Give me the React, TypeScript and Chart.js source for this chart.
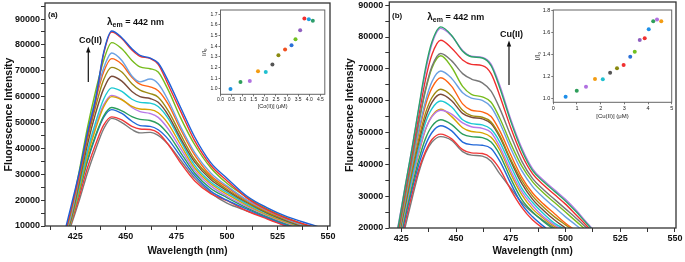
import React, { useEffect, useRef } from 'react';
import { Chart, registerables } from 'chart.js';

Chart.register(...registerables);

const FONT = '"Liberation Sans", Arial, Helvetica, sans-serif';

// ---------- Panel (a): Co(II) titration ----------
const WL_A = [419, 423, 427, 431, 435, 439, 443, 448, 453, 457, 462, 466, 471, 477, 484, 492, 500, 510, 520, 530, 542, 550];
// listed from the highest spectrum to the lowest
const A_BLUE = [5500, 18000, 31000, 46000, 59000, 77000, 85400, 82800, 78500, 76000, 74900, 73000, 66000, 56000, 44500, 34500, 28500, 21500, 17000, 13500, 10500, 8500];
const A_RED = [4500, 16500, 30000, 45000, 58000, 76500, 85000, 82500, 78000, 75600, 74800, 72500, 64500, 54500, 43000, 33500, 27500, 20800, 16200, 12800, 9800, 7800];
const A_LIME = [4500, 16000, 31500, 48000, 62000, 74000, 80900, 78500, 74000, 71500, 70800, 69500, 62500, 52000, 41500, 32500, 26500, 21000, 16500, 13000, 9500, 7500];
const A_LIGHTBLUE = [4000, 14500, 30000, 46000, 59500, 71000, 76900, 74000, 68000, 65700, 66800, 65000, 58500, 48500, 38500, 30500, 25500, 20000, 16000, 12500, 9200, 7200];
const A_ORANGE = [4000, 14500, 29500, 45500, 58500, 69500, 74700, 72500, 67500, 64800, 63800, 62300, 57000, 47500, 37500, 29500, 25000, 19800, 15800, 12500, 9000, 7000];
const A_OLIVE = [3500, 13500, 28000, 43500, 56000, 66500, 71300, 69500, 65000, 62500, 61200, 59800, 54500, 45500, 35800, 28800, 24200, 19300, 15300, 12200, 8800, 6800];
const A_BROWN = [3500, 13000, 27000, 41500, 53500, 63000, 67900, 66000, 62000, 60000, 59300, 57800, 52800, 44000, 34800, 28000, 23700, 19000, 15000, 11800, 8500, 6500];
const A_CYAN = [3000, 12500, 25500, 39000, 50000, 59000, 63400, 62000, 59000, 57800, 57500, 56200, 51500, 43000, 33500, 27000, 23000, 18500, 14800, 11700, 8300, 6300];
const A_GOLD = [3000, 12000, 24000, 37000, 47500, 56000, 60000, 58800, 56200, 55200, 55000, 53800, 49500, 41500, 32500, 26300, 22300, 18000, 14300, 11300, 8000, 6000];
const A_PURPLE = [3500, 12500, 25000, 38000, 48500, 56800, 60500, 59000, 55800, 54200, 53500, 52000, 47500, 40000, 31500, 25500, 21500, 17500, 14000, 11000, 7800, 5800];
const A_TEAL = [3500, 12500, 23500, 35500, 45000, 52500, 55800, 54500, 52300, 51200, 50800, 49500, 45500, 38500, 30500, 24500, 21000, 17000, 13600, 10600, 7500, 5500];
const A_BLUE2 = [4000, 13000, 23500, 35000, 44500, 52000, 55000, 53500, 50500, 48800, 48500, 47200, 43500, 37000, 29500, 23500, 20000, 16500, 13200, 10300, 7300, 5300];
const A_RED2 = [3000, 11500, 21500, 32500, 41500, 49000, 52200, 51000, 48500, 47500, 47300, 46000, 41500, 34500, 27500, 22500, 19800, 15800, 12700, 9800, 6800, 5000];
const A_GREY = [2000, 10500, 20000, 30500, 39500, 47500, 51600, 50000, 47300, 46000, 46200, 45000, 41500, 35500, 28500, 22800, 18800, 15800, 13000, 9800, 6500, 4500];
const A_SERIES = [A_BLUE, A_RED, A_LIME, A_LIGHTBLUE, A_ORANGE, A_OLIVE, A_BROWN, A_CYAN, A_GOLD, A_PURPLE, A_TEAL, A_BLUE2, A_RED2, A_GREY];
const A_COLORS = ['#1d5fd8', '#ef3030', '#76bb1c', '#6da2e3', '#ff6414', '#9d8b12', '#7a4b3a', '#1cc8d2', '#d9a300', '#b878e8', '#2a9d5c', '#2268d8', '#f03838', '#7a7a7a'];

// ---------- Panel (b): Cu(II) titration ----------
const WL_B = [421, 424, 427, 430, 433, 436, 439, 443, 448, 453, 457, 462, 466, 470, 475, 480, 485, 490, 495, 500, 505, 510, 515];
const B_TEAL = [11000, 22000, 34000, 45500, 58000, 70000, 78500, 83200, 80500, 75500, 73800, 73400, 71000, 64000, 53500, 44500, 38000, 34500, 31500, 28500, 25000, 21200, 17500];
const B_PURPLE = [11500, 22500, 34000, 45500, 57500, 69000, 77800, 82700, 80300, 75800, 74000, 73600, 71500, 64800, 54200, 45200, 38600, 35000, 32000, 29000, 25500, 21500, 17800];
const B_RED = [10000, 21000, 32500, 44000, 55500, 66500, 74500, 79000, 76500, 72800, 71400, 71000, 68500, 61500, 51500, 43000, 37000, 33500, 30500, 27500, 24000, 20500, 17000];
const B_GREY = [9500, 20500, 31500, 42500, 53500, 63500, 70800, 74800, 72500, 68500, 66800, 65600, 63000, 57500, 49000, 41000, 35500, 32000, 29000, 26000, 23000, 19800, 16500];
const B_LIME = [9000, 20000, 31000, 42000, 53000, 63000, 70300, 74100, 70500, 64500, 62000, 61200, 59500, 54500, 46500, 39500, 34500, 31000, 28000, 25000, 22000, 19000, 16000];
const B_LIGHTBLUE = [8500, 19500, 30000, 40500, 50800, 59800, 66000, 69300, 67000, 62500, 60800, 60100, 58000, 53000, 45000, 38000, 33000, 29500, 26500, 23500, 20800, 18000, 15000];
const B_ORANGE = [8000, 19000, 29500, 40000, 50000, 58500, 64000, 67200, 64500, 59000, 57000, 56500, 55000, 50500, 43000, 36000, 31000, 27500, 24500, 21500, 19000, 16500, 14000];
const B_OLIVE = [7500, 18500, 28500, 38500, 48000, 56000, 61000, 63600, 61500, 57000, 55300, 54800, 53300, 49000, 41500, 35000, 30000, 26500, 23500, 21000, 18500, 16000, 13500];
const B_BROWN = [7000, 18000, 28000, 38000, 47000, 54500, 59500, 62000, 60000, 56000, 54800, 54300, 52800, 48500, 41000, 34000, 29000, 25500, 22500, 20000, 17500, 15000, 12500];
const B_CYAN = [7000, 17500, 27000, 36500, 45500, 53000, 57500, 59900, 58000, 54000, 52800, 52400, 51000, 47000, 39500, 32500, 28000, 24500, 21500, 19500, 17000, 14500, 12000];
const B_PURPLE2 = [6500, 17000, 26500, 35500, 44000, 51000, 55000, 57000, 55800, 53000, 51800, 51300, 50000, 45500, 38000, 31500, 27000, 23500, 21000, 19000, 16500, 14000, 11500];
const B_GOLD = [6500, 16500, 26000, 35000, 43500, 50800, 55200, 57300, 55000, 51500, 50300, 49900, 48500, 44500, 37000, 30500, 26000, 23000, 20500, 18500, 16000, 13500, 11000];
const B_GREEN2 = [6000, 15500, 25000, 33500, 41500, 48000, 52000, 54000, 52500, 49500, 48700, 48400, 47000, 43000, 35500, 29000, 25000, 22000, 19500, 17500, 15000, 12500, 10000];
const B_BLUE = [5500, 14500, 24000, 32500, 40000, 46000, 50000, 52100, 50500, 47000, 46200, 46000, 45000, 41000, 34000, 27500, 23500, 20500, 18000, 16000, 13500, 11000, 9000];
const B_RED2 = [5000, 13500, 22500, 31000, 38500, 44000, 47800, 49500, 48000, 44600, 43600, 43400, 42000, 38500, 32000, 26500, 22500, 19800, 17500, 15500, 13000, 11000, 9000];
const B_GREY2 = [4500, 12500, 21000, 29500, 37500, 43500, 47000, 48700, 47500, 44000, 42900, 42600, 41000, 37000, 32500, 28000, 24800, 22300, 20000, 17500, 14500, 12000, 9500];
const B_SERIES = [B_TEAL, B_PURPLE, B_RED, B_GREY, B_LIME, B_LIGHTBLUE, B_ORANGE, B_OLIVE, B_BROWN, B_CYAN, B_PURPLE2, B_GOLD, B_GREEN2, B_BLUE, B_RED2, B_GREY2];
const B_COLORS = ['#2aa36a', '#b77ae8', '#ef2f2f', '#777777', '#78bc1e', '#6aa0e2', '#ff6414', '#a08a10', '#7a4b3a', '#1ccad2', '#b878e8', '#d9a300', '#2a9d5c', '#2268d8', '#f03838', '#7a7a7a'];

// ---------- Insets ----------
const CO_CONC = [0.45, 0.9, 1.32, 1.69, 2.04, 2.34, 2.61, 2.91, 3.2, 3.38, 3.59, 3.78, 3.98, 4.16];
const CO_RATIO = [1.0, 1.066, 1.075, 1.166, 1.16, 1.23, 1.316, 1.37, 1.41, 1.466, 1.55, 1.66, 1.653, 1.64];
const CO_COLORS = ['#1e90e0', '#2e9e5b', '#b070e0', '#f39c12', '#20c0d0', '#555555', '#8a8a10', '#f05020', '#2a70d8', '#70c020', '#9060c0', '#f03030', '#20a0e0', '#2e9e6b'];
const CU_CONC = [0.52, 0.99, 1.38, 1.76, 2.09, 2.4, 2.69, 2.97, 3.25, 3.44, 3.65, 3.86, 4.03, 4.22, 4.38, 4.56];
const CU_RATIO = [1.015, 1.069, 1.105, 1.175, 1.172, 1.232, 1.272, 1.302, 1.377, 1.422, 1.528, 1.543, 1.625, 1.697, 1.715, 1.697];
const CU_COLORS = ['#1e8ee8', '#2e9e5b', '#b070e0', '#f39c12', '#20c0d0', '#555555', '#8a8a10', '#f03030', '#2a70d8', '#70c020', '#9060c0', '#f03030', '#1e90e8', '#2e9e5b', '#b070e0', '#f39c12'];

// ---------- Tick values ----------
const X_MAJOR = [425, 450, 475, 500, 525, 550];
const X_MINOR = [412.5, 437.5, 462.5, 487.5, 512.5, 537.5];
const Y_MAJOR_A = [10000, 20000, 30000, 40000, 50000, 60000, 70000, 80000, 90000];
const Y_MINOR_A = [15000, 25000, 35000, 45000, 55000, 65000, 75000, 85000, 95000];
const Y_MAJOR_B = [20000, 30000, 40000, 50000, 60000, 70000, 80000, 90000];
const Y_MINOR_B = [25000, 35000, 45000, 55000, 65000, 75000, 85000];
const CO_X_TICKS = [0, 0.5, 1, 1.5, 2, 2.5, 3, 3.5, 4, 4.5];
const CO_Y_TICKS = [1.0, 1.1, 1.2, 1.3, 1.4, 1.5, 1.6, 1.7];
const CU_X_TICKS = [0, 1, 2, 3, 4, 5];
const CU_Y_TICKS = [1.0, 1.2, 1.4, 1.6, 1.8];

type Ann = {
  tag: string; tagX: number; tagY: number;
  lamX: number; lamY: number;
  ion: string; ionX: number; ionY: number;
  arrowX: number; arrowTop: number; arrowBottom: number;
};

function boxPlugin(color: string, width: number) {
  return {
    id: 'box',
    afterDatasetsDraw(chart: any) {
      const { ctx, chartArea: a } = chart;
      ctx.save();
      ctx.strokeStyle = color;
      ctx.lineWidth = width;
      ctx.strokeRect(a.left, a.top, a.right - a.left, a.bottom - a.top);
      ctx.restore();
    },
  };
}

function annotPlugin(a: Ann) {
  return {
    id: 'annot',
    afterDraw(chart: any) {
      const ctx = chart.ctx;
      ctx.save();
      ctx.fillStyle = '#111';
      ctx.textAlign = 'left';
      ctx.textBaseline = 'alphabetic';
      ctx.font = `bold 8px ${FONT}`;
      ctx.fillText(a.tag, a.tagX, a.tagY);
      ctx.font = `bold 10px ${FONT}`;
      ctx.fillText('λ', a.lamX, a.lamY);
      const w1 = ctx.measureText('λ').width;
      ctx.font = `bold 7px ${FONT}`;
      ctx.fillText('em', a.lamX + w1, a.lamY + 2.5);
      const w2 = ctx.measureText('em').width;
      ctx.font = `bold 9px ${FONT}`;
      ctx.fillText(' = 442 nm', a.lamX + w1 + w2, a.lamY);
      ctx.fillText(a.ion, a.ionX, a.ionY);
      ctx.strokeStyle = '#111';
      ctx.lineWidth = 1.2;
      ctx.beginPath();
      ctx.moveTo(a.arrowX, a.arrowBottom);
      ctx.lineTo(a.arrowX, a.arrowTop + 4);
      ctx.stroke();
      ctx.beginPath();
      ctx.moveTo(a.arrowX, a.arrowTop);
      ctx.lineTo(a.arrowX - 2.2, a.arrowTop + 6);
      ctx.lineTo(a.arrowX + 2.2, a.arrowTop + 6);
      ctx.closePath();
      ctx.fill();
      ctx.restore();
    },
  };
}

function tickSetter(values: number[], min: number, max: number) {
  return (scale: any) => {
    scale.ticks = values
      .filter((v) => v >= min - 1e-9 && v <= max + 1e-9)
      .sort((p, q) => p - q)
      .map((v) => ({ value: v }));
  };
}

type MainP = {
  wl: number[]; series: number[][]; colors: string[];
  xMin: number; xMax: number; yMin: number; yMax: number;
  yMajor: number[]; yMinor: number[];
  yWidth: number; xHeight: number; padRight: number; padTop: number;
  yTitlePad: number; xTitlePad: number; xTickPad: number; yTickPad: number;
  ann: Ann;
};

function mainConfig(p: MainP): any {
  const tickFont = { family: FONT, size: 9, weight: 'bold' as const };
  return {
    type: 'line',
    data: {
      datasets: p.series.map((s, i) => ({
        data: s.map((v, j) => ({ x: p.wl[j], y: v })),
        borderColor: p.colors[i],
        borderWidth: 1.4,
        pointRadius: 0,
        fill: false,
        cubicInterpolationMode: 'monotone',
      })),
    },
    options: {
      animation: false,
      responsive: false,
      devicePixelRatio: 1,
      layout: { padding: { left: 0, right: p.padRight, top: p.padTop, bottom: 0 } },
      plugins: { legend: { display: false }, tooltip: { enabled: false } },
      scales: {
        x: {
          type: 'linear',
          min: p.xMin,
          max: p.xMax,
          afterBuildTicks: tickSetter([...X_MAJOR, ...X_MINOR], p.xMin, p.xMax),
          afterFit: (s: any) => { s.height = p.xHeight; s.paddingLeft = 0; s.paddingRight = 0; },
          ticks: {
            autoSkip: false, maxRotation: 0, minRotation: 0, padding: p.xTickPad,
            color: '#111', font: tickFont,
            callback: (v: any) => (X_MAJOR.includes(Number(v)) ? String(v) : ''),
          },
          grid: { display: true, drawOnChartArea: false, drawTicks: true, tickLength: 4, color: '#333', lineWidth: 1 },
          border: { display: false },
          title: {
            display: true, text: 'Wavelength (nm)', color: '#111',
            font: { family: FONT, size: 10, weight: 'bold' },
            padding: { top: 0, bottom: p.xTitlePad },
          },
        },
        y: {
          type: 'linear',
          min: p.yMin,
          max: p.yMax,
          afterBuildTicks: tickSetter([...p.yMajor, ...p.yMinor], p.yMin, p.yMax),
          afterFit: (s: any) => { s.width = p.yWidth; s.paddingTop = 0; s.paddingBottom = 0; },
          ticks: {
            autoSkip: false, padding: p.yTickPad, color: '#111', font: tickFont,
            callback: (v: any) => (p.yMajor.includes(Number(v)) ? String(v) : ''),
          },
          grid: { display: true, drawOnChartArea: false, drawTicks: true, tickLength: 4, color: '#333', lineWidth: 1 },
          border: { display: false },
          title: {
            display: true, text: 'Fluorescence Intensity', color: '#111',
            font: { family: FONT, size: 10.5, weight: 'bold' },
            padding: { top: p.yTitlePad, bottom: 0 },
          },
        },
      },
    },
    plugins: [boxPlugin('#333', 1.3), annotPlugin(p.ann)],
  };
}

type InsetP = {
  xs: number[]; ys: number[]; colors: string[];
  xMin: number; xMax: number; yMin: number; yMax: number;
  xTicks: number[]; yTicks: number[]; xDigits: number;
  yWidth: number; xHeight: number; padRight: number; padTop: number;
  xTitle: string; xTitlePad: number; yTitlePad: number; yTitleSize: number;
  tickSize: number; xTickPad: number;
};

function insetConfig(p: InsetP): any {
  const tickFont = { family: FONT, size: p.tickSize };
  return {
    type: 'scatter',
    data: {
      datasets: [{
        data: p.xs.map((x, i) => ({ x, y: p.ys[i] })),
        pointBackgroundColor: p.colors,
        pointBorderColor: p.colors,
        pointBorderWidth: 0,
        pointRadius: 2,
        pointStyle: 'circle',
        showLine: false,
      }],
    },
    options: {
      animation: false,
      responsive: false,
      devicePixelRatio: 1,
      layout: { padding: { left: 0, right: p.padRight, top: p.padTop, bottom: 0 } },
      plugins: { legend: { display: false }, tooltip: { enabled: false } },
      scales: {
        x: {
          type: 'linear', min: p.xMin, max: p.xMax,
          afterBuildTicks: tickSetter(p.xTicks, p.xMin, p.xMax),
          afterFit: (s: any) => { s.height = p.xHeight; s.paddingLeft = 0; s.paddingRight = 0; },
          ticks: {
            autoSkip: false, maxRotation: 0, minRotation: 0, padding: p.xTickPad, color: '#222', font: tickFont,
            callback: (v: any) => Number(v).toFixed(p.xDigits),
          },
          grid: { display: true, drawOnChartArea: false, drawTicks: true, tickLength: 2, color: '#555', lineWidth: 0.8 },
          border: { display: false },
          title: {
            display: true, text: p.xTitle, color: '#222',
            font: { family: FONT, size: p.tickSize + 0.5 },
            padding: { top: 0, bottom: p.xTitlePad },
          },
        },
        y: {
          type: 'linear', min: p.yMin, max: p.yMax,
          afterBuildTicks: tickSetter(p.yTicks, p.yMin, p.yMax),
          afterFit: (s: any) => { s.width = p.yWidth; s.paddingTop = 0; s.paddingBottom = 0; },
          ticks: {
            autoSkip: false, padding: 1, color: '#222', font: tickFont,
            callback: (v: any) => Number(v).toFixed(1),
          },
          grid: { display: true, drawOnChartArea: false, drawTicks: true, tickLength: 2, color: '#555', lineWidth: 0.8 },
          border: { display: false },
          title: {
            display: true, text: 'I/I₀', color: '#222',
            font: { family: FONT, size: p.yTitleSize },
            padding: { top: p.yTitlePad, bottom: 0 },
          },
        },
      },
    },
    plugins: [boxPlugin('#666', 1)],
  };
}

export default function App() {
  const aRef = useRef<HTMLCanvasElement>(null);
  const bRef = useRef<HTMLCanvasElement>(null);
  const aiRef = useRef<HTMLCanvasElement>(null);
  const biRef = useRef<HTMLCanvasElement>(null);

  useEffect(() => {
    Chart.defaults.font.family = FONT;
    const charts: Chart[] = [];
    charts.push(new Chart(aRef.current!, mainConfig({
      wl: WL_A, series: A_SERIES, colors: A_COLORS,
      xMin: 410, xMax: 551, yMin: 10000, yMax: 96200,
      yMajor: Y_MAJOR_A, yMinor: Y_MINOR_A,
      yWidth: 45, xHeight: 36, padRight: 15, padTop: 3,
      yTitlePad: 2.7, xTitlePad: 4.3, xTickPad: 1, yTickPad: 1,
      ann: { tag: '(a)', tagX: 48, tagY: 16.5, lamX: 107, lamY: 24.5, ion: 'Co(II)', ionX: 79, ionY: 42.5, arrowX: 88.3, arrowTop: 46.5, arrowBottom: 82 },
    })));
    charts.push(new Chart(bRef.current!, mainConfig({
      wl: WL_B, series: B_SERIES, colors: B_COLORS,
      xMin: 419.5, xMax: 550.5, yMin: 20000, yMax: 91000,
      yMajor: Y_MAJOR_B, yMinor: Y_MINOR_B,
      yWidth: 49.3, xHeight: 34, padRight: 9, padTop: 2,
      yTitlePad: 3.7, xTitlePad: 5, xTickPad: 1, yTickPad: 2,
      ann: { tag: '(b)', tagX: 52, tagY: 17.5, lamX: 87.3, lamY: 19.5, ion: 'Cu(II)', ionX: 160, ionY: 36.5, arrowX: 169, arrowTop: 40.5, arrowBottom: 85 },
    })));
    charts.push(new Chart(aiRef.current!, insetConfig({
      xs: CO_CONC, ys: CO_RATIO, colors: CO_COLORS,
      xMin: 0, xMax: 4.7, yMin: 0.95, yMax: 1.74,
      xTicks: CO_X_TICKS, yTicks: CO_Y_TICKS, xDigits: 1,
      yWidth: 30.5, xHeight: 20.7, padRight: 5.2, padTop: 10,
      xTitle: '[Co(II)] (μM)', xTitlePad: 5, yTitlePad: 11, yTitleSize: 6,
      tickSize: 5, xTickPad: 0.5,
    })));
    charts.push(new Chart(biRef.current!, insetConfig({
      xs: CU_CONC, ys: CU_RATIO, colors: CU_COLORS,
      xMin: 0, xMax: 5, yMin: 0.964, yMax: 1.8,
      xTicks: CU_X_TICKS, yTicks: CU_Y_TICKS, xDigits: 0,
      yWidth: 33.3, xHeight: 22.7, padRight: 13.3, padTop: 10,
      xTitle: '[Cu(II)] (μM)', xTitlePad: 4.7, yTitlePad: 14, yTitleSize: 7,
      tickSize: 5.5, xTickPad: 1.2,
    })));
    return () => charts.forEach((c) => c.destroy());
  }, []);

  const abs = (l: number, t: number, w: number, h: number): React.CSSProperties => ({
    position: 'absolute', left: l, top: t, width: w, height: h,
  });

  return (
    <div style={{ position: 'absolute', left: 0, top: 0, width: 685, height: 262, background: '#fff', overflow: 'hidden' }}>
      <canvas ref={aRef} width={345} height={262} style={abs(0, 0, 345, 262)} />
      <canvas ref={bRef} width={345} height={262} style={abs(340, 0, 345, 262)} />
      <canvas ref={aiRef} width={140} height={115} style={abs(190, 0, 140, 115)} />
      <canvas ref={biRef} width={165} height={125} style={abs(520, 0, 165, 125)} />
    </div>
  );
}
